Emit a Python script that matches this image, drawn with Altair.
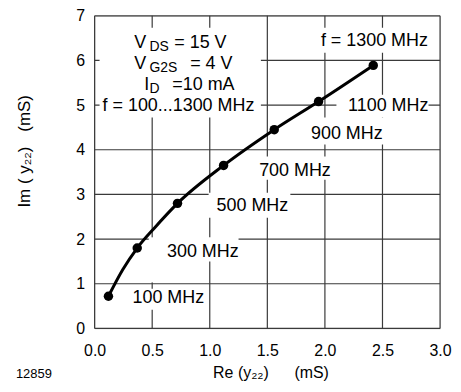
import altair as alt
import pandas as pd

# measured points (Re(y22), Im(y22)) in mS at the marked frequencies
freq_mhz = [100, 300, 500, 700, 900, 1100, 1300]
re_y22 = [0.12, 0.37, 0.72, 1.12, 1.56, 1.945, 2.42]
im_y22 = [0.72, 1.80, 2.80, 3.65, 4.45, 5.08, 5.89]

# curve trace (includes the marked points)
curve_re = [0.12, 0.245, 0.37, 0.52, 0.72, 1.12, 1.56, 1.945, 2.42]
curve_im = [0.72, 1.32, 1.80, 2.25, 2.80, 3.65, 4.45, 5.08, 5.89]

# frequency labels
label_text = ["100 MHz", "300 MHz", "500 MHz", "700 MHz", "900 MHz", "1100 MHz", "f = 1300 MHz"]
label_x = [0.64, 0.94, 1.37, 1.74, 2.19, 2.55, 2.43]
label_y = [0.67, 1.72, 2.73, 3.53, 4.36, 4.98, 6.43]

# white boxes behind the annotations (hide the grid there)
box_x1 = [0.043, 1.93, 2.10, 1.86, 1.41, 0.99, 0.52, 0.47, 0.32]
box_x2 = [1.444, 2.98, 2.90, 2.53, 2.07, 1.70, 1.25, 0.56, 0.97]
box_y1 = [4.72, 6.17, 4.72, 4.12, 3.33, 2.48, 1.50, 1.03, 0.42]
box_y2 = [6.73, 6.73, 5.23, 4.72, 3.85, 3.04, 2.04, 2.04, 0.89]

# condition block (main text pieces and subscript pieces)
cond_text = ["V", "= 15 V", "V", "= 4 V", "I", "=10 mA", "f = 100...1300 MHz"]
cond_x = [0.345, 0.692, 0.345, 0.830, 0.432, 0.675, 0.069]
cond_y = [6.40, 6.40, 5.93, 5.93, 5.46, 5.46, 4.99]
sub_text = ["DS", "G2S", "D"]
sub_x = [0.476, 0.476, 0.476]
sub_y = [6.40, 5.93, 5.46]

x_ticks = [0.0, 0.5, 1.0, 1.5, 2.0, 2.5, 3.0]
y_ticks = [0, 1, 2, 3, 4, 5, 6, 7]

FONT = "Liberation Sans"
GRID = "#3a3a3a"

xs = alt.Scale(domain=[0, 3], nice=False, zero=False)
ys = alt.Scale(domain=[0, 7], nice=False, zero=False)
xaxis = alt.Axis(values=x_ticks, format=".1f", grid=False, domain=False, ticks=False,
                 labelFontSize=16, labelFont=FONT, labelColor="black",
                 labelFlush=False, labelOverlap=False, labelPadding=14, title=None)
yaxis = alt.Axis(values=y_ticks, format="d", grid=False, domain=False, ticks=False,
                 labelFontSize=16, labelFont=FONT, labelColor="black",
                 labelFlush=False, labelOverlap=False, labelPadding=10, title=None)


def X(f):
    return alt.X(f, type="quantitative", scale=xs, axis=xaxis)


def Y(f):
    return alt.Y(f, type="quantitative", scale=ys, axis=yaxis)


vgrid = alt.Chart(pd.DataFrame({"v": x_ticks})).mark_rule(color=GRID, strokeWidth=1.2).encode(
    x=X("v"))
hgrid = alt.Chart(pd.DataFrame({"v": y_ticks})).mark_rule(color=GRID, strokeWidth=1.2).encode(
    y=Y("v"))

boxes = pd.DataFrame({"x1": box_x1, "x2": box_x2, "y1": box_y1, "y2": box_y2})
box_layer = alt.Chart(boxes).mark_rect(fill="white", strokeWidth=0).encode(
    x=X("x1"), x2="x2", y=Y("y1"), y2="y2")

curve = pd.DataFrame({"re": curve_re, "im": curve_im})
line_layer = alt.Chart(curve).mark_line(color="black", strokeWidth=3, interpolate="monotone").encode(
    x=X("re"), y=Y("im"))

pts = pd.DataFrame({"re": re_y22, "im": im_y22, "f": freq_mhz})
pt_layer = alt.Chart(pts).mark_circle(color="black", size=90, opacity=1).encode(
    x=X("re"), y=Y("im"))

labels = pd.DataFrame({"t": label_text, "x": label_x, "y": label_y})
label_layer = alt.Chart(labels).mark_text(font=FONT, fontSize=18, color="black",
                                          align="center", baseline="middle").encode(
    x=X("x"), y=Y("y"), text="t")

cond = pd.DataFrame({"t": cond_text, "x": cond_x, "y": cond_y})
cond_layer = alt.Chart(cond).mark_text(font=FONT, fontSize=18, color="black",
                                       align="left", baseline="middle").encode(
    x=X("x"), y=Y("y"), text="t")

subs = pd.DataFrame({"t": sub_text, "x": sub_x, "y": sub_y})
sub_layer = alt.Chart(subs).mark_text(font=FONT, fontSize=14, color="black",
                                      align="left", baseline="middle", dy=4).encode(
    x=X("x"), y=Y("y"), text="t")

one = pd.DataFrame({"a": [0]})
xt1 = alt.Chart(one).mark_text(text="Re (y₂₂)", font=FONT, fontSize=16, color="black",
                               align="center", baseline="middle").encode(
    x=alt.value(147), y=alt.value(359))
xt2 = alt.Chart(one).mark_text(text="(mS)", font=FONT, fontSize=16, color="black",
                               align="center", baseline="middle").encode(
    x=alt.value(218), y=alt.value(359))
yt1 = alt.Chart(one).mark_text(text="Im ( y₂₂)", font=FONT, fontSize=17, color="black",
                               align="center", baseline="middle", angle=270).encode(
    x=alt.value(-70), y=alt.value(162))
yt2 = alt.Chart(one).mark_text(text="(mS)", font=FONT, fontSize=17, color="black",
                               align="center", baseline="middle", angle=270).encode(
    x=alt.value(-70), y=alt.value(98))
code = alt.Chart(one).mark_text(text="12859", font=FONT, fontSize=13, color="black",
                                align="center", baseline="middle").encode(
    x=alt.value(-61), y=alt.value(360))

chart = alt.layer(vgrid, hgrid, box_layer, line_layer, pt_layer, label_layer, cond_layer,
                  sub_layer, xt1, xt2, yt1, yt2, code).properties(
    width=347, height=314,
    autosize=alt.AutoSizeParams(type="none"),
    padding={"left": 87, "top": 7, "right": 13, "bottom": 54},
).configure_view(stroke="black", strokeWidth=2.5).configure(background="white")

chart.save("out.html", embed_options={"renderer": "svg", "actions": False})
